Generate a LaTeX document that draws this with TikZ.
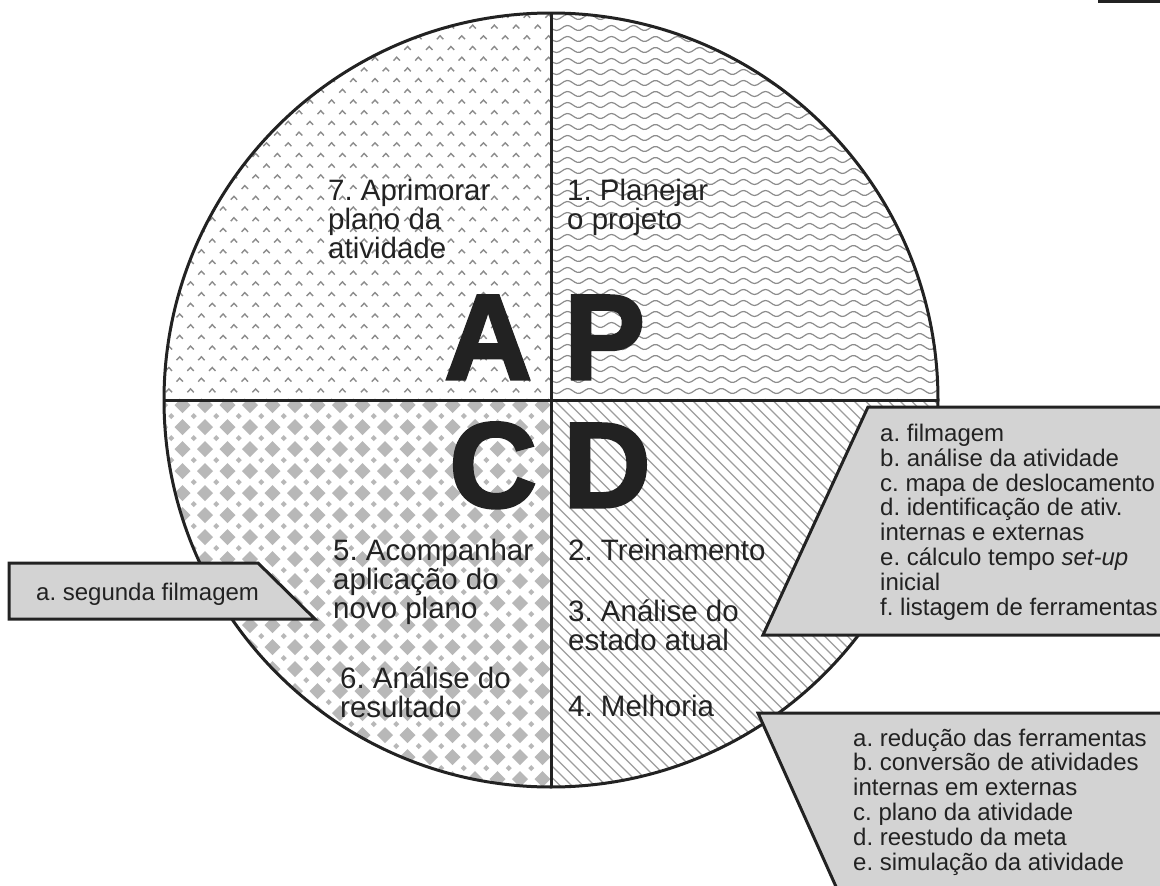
\documentclass[tikz,border=0pt]{standalone}
\usepackage{fontspec}
\setmainfont{Liberation Sans}
\newfontfamily\bigfont{Liberation Sans Bold}[FakeBold=2.5]
\frenchspacing
\definecolor{ink}{HTML}{222222}
\definecolor{pat}{HTML}{8C8C8C}
\definecolor{boxfill}{HTML}{D3D3D3}
\tikzset{
  chev/.style={draw=pat, line width=1.4pt},
  wave/.style={draw=pat, line width=1.2pt},
  diam/.style={fill=pat!62},
  diag/.style={draw=pat!85, line width=1.1pt},
  frame/.style={draw=ink, line width=3pt},
  callout/.style={draw=ink, fill=boxfill, line width=3pt, line join=miter},
  qtext/.style={font=\frenchspacing\fontsize{29.5}{29}\selectfont, text=ink, align=left, anchor=base west, inner sep=0pt},
  btext/.style={font=\frenchspacing\fontsize{24}{24.8}\selectfont, text=ink, align=left, anchor=base west, inner sep=0pt},
  big/.style={font=\bigfont\fontsize{121}{121}\selectfont, text=ink, inner sep=0pt},
}
\begin{document}
\begin{tikzpicture}[x=1pt,y=-1pt]
\clip (0,0) rectangle (1160,886);
\fill[white] (0,0) rectangle (1160,886);
\fill[ink] (1098,0) rectangle (1160,3);
% patterns
\begin{scope}
  \clip (551,400) circle[radius=387pt];
  % top-left: chevrons
  \begin{scope}
    \clip (150,0) rectangle (551,400);
    \foreach \j in {0,...,37}{
      \foreach \i in {0,...,18}{
        \pgfmathsetmacro\xx{158+\i*21.7+mod(\j,2)*10.85}
        \pgfmathsetmacro\yy{16+\j*10.7}
        \draw[chev] (\xx-3.2,\yy+1.8) -- (\xx,\yy-1.6) -- (\xx+3.2,\yy+1.8);
      }
    }
  \end{scope}
  % top-right: waves
  \begin{scope}
    \clip (551,0) rectangle (950,400);
    \foreach \k in {0,...,36}{
      \pgfmathsetmacro\yy{17+\k*11}
      \draw[wave] plot[domain=0:394,samples=150,smooth] ({551+\x},{\yy+2.5*sin(\x*16.3636)});
    }
  \end{scope}
  % bottom-left: diamonds
  \begin{scope}
    \clip (150,400) rectangle (551,800);
    \foreach \j in {0,...,18}{
      \foreach \i in {0,...,18}{
        \pgfmathsetmacro\xx{160+\i*22.5}
        \pgfmathsetmacro\yy{405+\j*22}
        \fill[diam] (\xx-8,\yy) -- (\xx,\yy-8) -- (\xx+8,\yy) -- (\xx,\yy+8) -- cycle;
        \fill[diam] (\xx+11.25-3,\yy+11) -- (\xx+11.25,\yy+8) -- (\xx+11.25+3,\yy+11) -- (\xx+11.25,\yy+14) -- cycle;
      }
    }
  \end{scope}
  % bottom-right: diagonal lines
  \begin{scope}
    \clip (551,400) rectangle (950,800);
    \foreach \k in {0,...,75}{
      \pgfmathsetmacro\xx{140+\k*11.5}
      \draw[diag] (\xx,400) -- (\xx+420,820);
    }
  \end{scope}
\end{scope}
% circle and dividers
\node[circle, draw=ink, line width=3pt, minimum size=774pt, inner sep=0pt, outer sep=0pt] (wheel) at (551,400) {};
\draw[frame] (wheel.north) -- (wheel.south);
\draw[frame] (wheel.west) -- (wheel.east);
% quadrant texts (anchor = baseline of last line)
\node[qtext] (t7) at (328,258) {7. Aprimorar\\plano da\\atividade};
\node[qtext] (t1) at (567,229) {1. Planejar\\o projeto};
\node[qtext] (t5) at (333,618) {5. Acompanhar\\aplicação do\\novo plano};
\node[qtext] (t6) at (340,717) {6. Análise do\\resultado};
\node[qtext] (t2) at (568,560) {2. Treinamento};
\node[qtext] (t3) at (568,650) {3. Análise do\\estado atual};
\node[qtext] (t4) at (568,716) {4. Melhoria};
% big letters
\node[big, anchor=base east] (A) at (532,379) {A};
\node[big, anchor=base west] (P) at (564,379) {P};
\node[big, anchor=base east] (C) at (537,507) {C};
\node[big, anchor=base west] (D) at (563,507) {D};
% callouts
\draw[callout] (868,407) -- (1175,407) -- (1175,635) -- (763,635) -- cycle;
\node[btext] (b1) at (880,615) {a. filmagem\\b. análise da atividade\\c. mapa de deslocamento\\d. identificação de ativ.\\internas e externas\\e. cálculo tempo \textit{set-up}\\inicial\\f. listagem de ferramentas};
\draw[callout] (758,713) -- (1175,713) -- (1175,900) -- (842,900) -- cycle;
\node[btext] (b2) at (853,870) {a. redução das ferramentas\\b. conversão de atividades\\internas em externas\\c. plano da atividade\\d. reestudo da meta\\e. simulação da atividade};
\draw[callout] (9,563) -- (258,563) -- (315,619) -- (9,619) -- cycle;
\node[btext] (b0) at (36,600) {a. segunda filmagem};
\end{tikzpicture}
\end{document}
